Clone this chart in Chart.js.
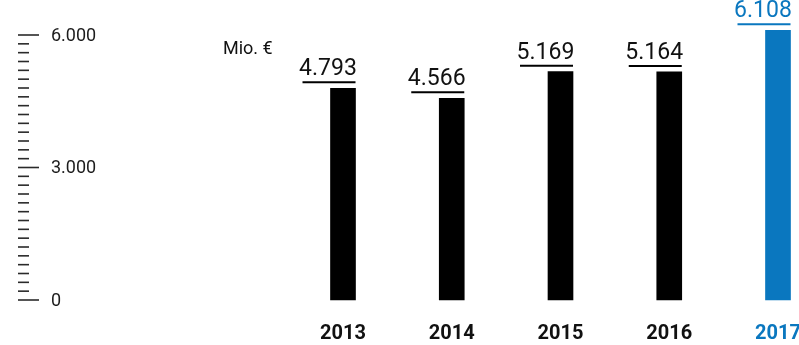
<!DOCTYPE html>
<html>
<head>
<meta charset="utf-8">
<script src="https://cdn.jsdelivr.net/npm/chart.js@4/dist/chart.umd.min.js"></script>
<style>
  html, body { margin: 0; padding: 0; background: #ffffff; }
  #wrap { width: 799px; height: 345px; position: relative; overflow: hidden; }
  canvas { display: block; }
</style>
</head>
<body>
<div id="wrap"><canvas id="chart" width="799" height="345"></canvas></div>
<script>
// Revenue per year, in million euro
const years = ['2013', '2014', '2015', '2016', '2017'];
const revenue = [4793, 4566, 5169, 5164, 6108];
const valueLabels = ['4.793', '4.566', '5.169', '5.164', '6.108'];

// Value axis: labelled ticks and the minor tick step
const yTickValues = [0, 3000, 6000];
const yTickLabels = ['0', '3.000', '6.000'];
const yMinorStep = 200;
const unitLabel = 'Mio. €';

const INK = '#111111';
const BLUE = '#0a77bf';
const FONT = 'Roboto, "Open Sans", sans-serif';
const highlight = (i) => i === years.length - 1;
const barColors = years.map((y, i) => highlight(i) ? BLUE : '#000000');
const textColors = years.map((y, i) => highlight(i) ? BLUE : INK);

// Left-hand ruler: long marks with labels at the labelled values, short marks in between
const rulerPlugin = {
  id: 'ruler',
  afterDraw(chart) {
    const y = chart.scales.y;
    const ctx = chart.ctx;
    let values = (y.ticks || []).map(t => t.value);
    if (values.length < 3) {
      values = [];
      for (let v = y.min; v <= y.max; v += yMinorStep) values.push(v);
    }
    ctx.save();
    ctx.strokeStyle = '#2a2a2a';
    ctx.lineWidth = 1.6;
    values.forEach(v => {
      const py = y.getPixelForValue(v);
      const major = yTickValues.includes(v);
      ctx.beginPath();
      ctx.moveTo(18, py);
      ctx.lineTo(major ? 39 : 29, py);
      ctx.stroke();
    });
    ctx.fillStyle = '#1c1c1c';
    ctx.font = '18px ' + FONT;
    ctx.textAlign = 'left';
    ctx.textBaseline = 'middle';
    yTickValues.forEach((v, i) => {
      ctx.fillText(yTickLabels[i], 51, y.getPixelForValue(v) + 1);
    });
    // unit caption
    ctx.fillStyle = INK;
    ctx.font = '18px ' + FONT;
    ctx.textBaseline = 'alphabetic';
    ctx.fillText(unitLabel, 223, 54);
    ctx.restore();
  }
};

// Value caption with a rule above every bar
const valuePlugin = {
  id: 'values',
  afterDatasetsDraw(chart) {
    const ctx = chart.ctx;
    const meta = chart.getDatasetMeta(0);
    ctx.save();
    meta.data.forEach((bar, i) => {
      const right = bar.x + bar.width / 2;
      const lineY = bar.y - 6;
      ctx.strokeStyle = barColors[i];
      ctx.lineWidth = 2;
      ctx.beginPath();
      ctx.moveTo(right - 53, lineY);
      ctx.lineTo(right, lineY);
      ctx.stroke();
      ctx.fillStyle = textColors[i];
      ctx.font = '23px ' + FONT;
      ctx.textAlign = 'center';
      ctx.textBaseline = 'alphabetic';
      ctx.fillText(valueLabels[i], bar.x - 15, lineY - 7);
    });
    ctx.restore();
  }
};

new Chart(document.getElementById('chart'), {
  type: 'bar',
  data: {
    labels: years,
    datasets: [{
      data: revenue,
      backgroundColor: barColors,
      borderWidth: 0,
      barThickness: 25,
      clip: false
    }]
  },
  options: {
    responsive: false,
    animation: false,
    devicePixelRatio: 1,
    layout: { padding: { left: 343, right: 21, top: 35, bottom: 0 } },
    plugins: { legend: { display: false }, tooltip: { enabled: false } },
    scales: {
      x: {
        type: 'category',
        offset: false,
        grid: { display: false, drawTicks: false },
        border: { display: false },
        ticks: {
          autoSkip: false,
          maxRotation: 0,
          padding: 22,
          color: (c) => textColors[c.index],
          font: { family: FONT, size: 20, weight: 'bold' }
        },
        afterFit(scale) {
          scale.paddingLeft = 0;
          scale.paddingRight = 0;
          scale.height = 45;
        }
      },
      y: {
        display: false,
        min: 0,
        max: 6000,
        ticks: { stepSize: yMinorStep, maxTicksLimit: 100, font: { size: 4 } }
      }
    }
  },
  plugins: [rulerPlugin, valuePlugin]
});
</script>
</body>
</html>
